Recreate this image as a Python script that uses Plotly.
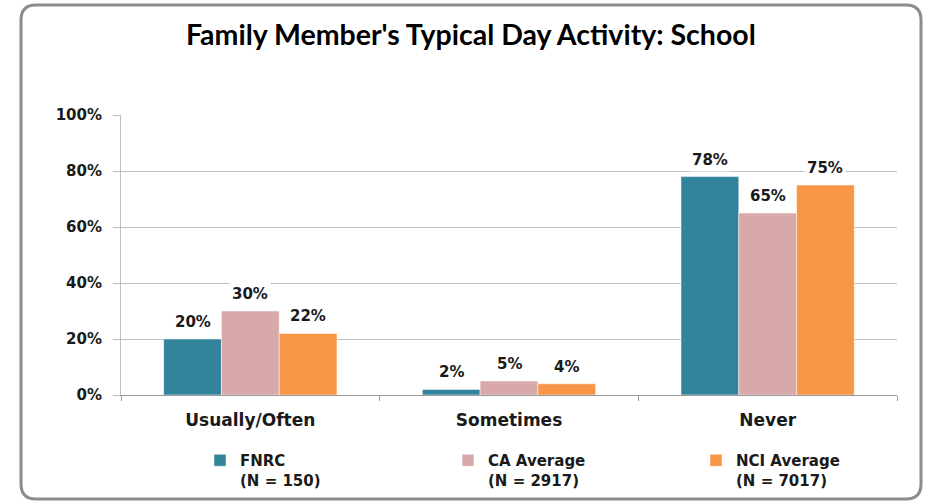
import plotly.graph_objects as go

# data
categories = ["Usually/Often", "Sometimes", "Never"]
series_names = ["FNRC<br>(N = 150)", "CA Average<br>(N = 2917)", "NCI Average<br>(N = 7017)"]
fnrc = [0.20, 0.02, 0.78]
ca_avg = [0.30, 0.05, 0.65]
nci_avg = [0.22, 0.04, 0.75]
colors = ["#31849B", "#D9A9A9", "#F79646"]

series = [fnrc, ca_avg, nci_avg]

W, H = 925, 501
L, R, T, B = 121, 28, 115, 106
bargap = 0.33
plot_w = W - L - R
plot_h = H - T - B
bar_px = plot_w / len(categories) * (1 - bargap) / len(series)

fig = go.Figure()
for name, vals, col in zip(series_names, series, colors):
    fig.add_trace(go.Bar(
        x=categories, y=vals, name=name,
        marker=dict(color=col, line=dict(color="rgba(255,255,255,0.5)", width=1)),
    ))

# data labels with white box (like the Excel labels)
for i, vals in enumerate(series):
    for cat, v in zip(categories, vals):
        fig.add_annotation(
            x=cat, y=v, text=f"{v:.0%}", showarrow=False,
            xshift=(i - 1) * bar_px, yanchor="bottom", yshift=5,
            bgcolor="white", borderpad=2,
            font=dict(family="DejaVu Sans", size=15, color="#1a1a1a", weight="bold"),
        )

# rounded frame around the chart
def px_x(p):
    return (p - L) / plot_w

def px_y(p):
    return (H - B - p) / plot_h

x0, x1, y0, y1, r = 21, 921, 5, 499, 15
path = (
    f"M {px_x(x0 + r)},{px_y(y0)} L {px_x(x1 - r)},{px_y(y0)} "
    f"Q {px_x(x1)},{px_y(y0)} {px_x(x1)},{px_y(y0 + r)} "
    f"L {px_x(x1)},{px_y(y1 - r)} Q {px_x(x1)},{px_y(y1)} {px_x(x1 - r)},{px_y(y1)} "
    f"L {px_x(x0 + r)},{px_y(y1)} Q {px_x(x0)},{px_y(y1)} {px_x(x0)},{px_y(y1 - r)} "
    f"L {px_x(x0)},{px_y(y0 + r)} Q {px_x(x0)},{px_y(y0)} {px_x(x0 + r)},{px_y(y0)} Z"
)
fig.add_shape(type="path", path=path, xref="paper", yref="paper",
              line=dict(color="#8C8C8C", width=3), layer="above")

fig.update_layout(
    width=W, height=H,
    margin=dict(l=L, r=R, t=T, b=B, autoexpand=False),
    paper_bgcolor="white", plot_bgcolor="white",
    barmode="group", bargap=bargap, bargroupgap=0,
    title=dict(text="<b>Family Member's Typical Day Activity: School</b>",
               x=0.509, xanchor="center", y=1 - 35 / H, yanchor="middle",
               font=dict(family="Lato", size=28.5, color="black")),
    font=dict(family="DejaVu Sans", color="#1a1a1a"),
    legend=dict(orientation="h", xref="container", yref="container",
                x=200 / W, xanchor="left", y=1 - 444 / H, yanchor="top",
                entrywidth=203, valign="top", traceorder="normal",
                bgcolor="rgba(0,0,0,0)",
                font=dict(family="DejaVu Sans", size=15, color="#1a1a1a", weight="bold"),
                itemwidth=30),
    showlegend=True,
)
fig.update_yaxes(range=[0, 1], dtick=0.2, tickformat=".0%",
                 showgrid=True, gridcolor="#BFBFBF", gridwidth=1,
                 showline=True, linecolor="#BFBFBF", ticks="outside", ticklen=7,
                 tickcolor="#BFBFBF", ticklabelstandoff=8,
                 tickfont=dict(family="DejaVu Sans", size=15, color="#1a1a1a", weight="bold"),
                 zeroline=False)
fig.update_xaxes(showline=True, linecolor="#999999", ticks="outside", ticklen=5,
                 tickcolor="#999999", tickson="boundaries", ticklabelstandoff=10,
                 tickfont=dict(family="DejaVu Sans", size=17, color="#1a1a1a", weight="bold"))

# drop the default page margin so the figure sits at the window origin
fig.write_html("out.html", config={"displayModeBar": False},
               post_script="document.body.style.margin='0';document.body.style.overflow='hidden';")
